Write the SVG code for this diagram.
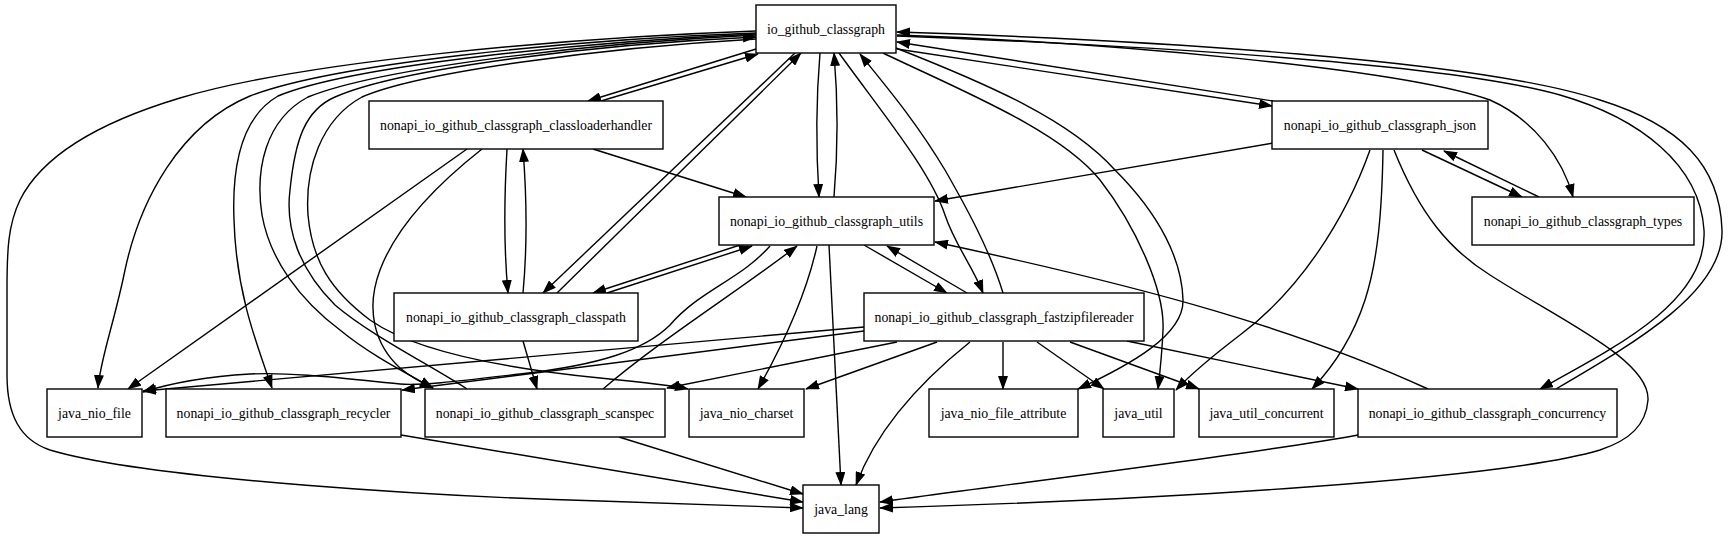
<svg xmlns="http://www.w3.org/2000/svg" width="1734" height="539" viewBox="0 0 1734 539">
<style>
rect{fill:#fff;stroke:#000;stroke-width:1.4}
text{font-family:"Liberation Serif","Times New Roman",serif;font-size:13.8px;text-anchor:middle;fill:#000}
#edges path{fill:none;stroke:#000;stroke-width:1.4;marker-end:url(#a)}
</style>
<defs>
<marker id="a" viewBox="0 0 14 10" refX="13" refY="5" markerWidth="14" markerHeight="10" markerUnits="userSpaceOnUse" orient="auto"><path d="M0,0 L14,5 L0,10 z" fill="#000"/></marker>
</defs>
<rect width="1734" height="539" style="stroke:none"/>
<g id="edges">
<path d="M756,31 C560,38 300,62 180,98 C90,125 40,160 20,200 C8,225 7,250 7,290 L7,375 C7,415 20,440 50,450 C150,480 450,497 600,501 C700,504 760,506 803,508"/>
<path d="M756,33 C560,40 330,65 250,96 C180,125 140,200 125,270 C115,320 100,360 98,388"/>
<path d="M756,34 C580,42 350,66 278,96 C240,118 232,170 234,220 C236,290 255,340 272,388"/>
<path d="M756,35 C590,43 380,68 308,97 C265,120 255,170 262,215 C270,260 300,300 340,330 C370,355 410,375 433,388"/>
<path d="M467,389 C430,365 370,335 335,305 C300,270 285,230 290,190 C295,140 305,110 335,97 C400,68 600,44 756,37"/>
<path d="M756,39 C600,48 420,72 362,97 C320,120 305,170 308,215 C312,260 330,290 370,320 C420,355 520,370 600,378 C640,382 670,385 688,389"/>
<path d="M482,149 C430,190 395,230 380,270 C365,310 375,345 400,368 C412,378 422,383 433,388"/>
<path d="M467,149 L128,389"/>
<path d="M593,149 L746,197"/>
<path d="M507,149 C504,200 504,250 508,293"/>
<path d="M523,293 C527,250 527,200 523,149"/>
<path d="M756,49 L588,101"/>
<path d="M601,101 L758,54"/>
<path d="M820,53 C816,100 816,150 819,197"/>
<path d="M834,197 C838,150 838,100 834,53"/>
<path d="M795,53 L543,293"/>
<path d="M557,293 L801,53"/>
<path d="M740,245 L593,293"/>
<path d="M607,293 L752,246"/>
<path d="M523,341 L537,389"/>
<path d="M603,389 C660,340 740,290 797,246"/>
<path d="M817,246 C805,300 780,350 758,389"/>
<path d="M829,245 L841,485"/>
<path d="M864,245 L947,293"/>
<path d="M967,293 L887,246"/>
<path d="M770,246 C740,280 700,290 670,325 C645,350 600,365 520,374 C460,381 420,386 400,384 C340,378 290,372 250,374 C200,377 165,385 143,392"/>
<path d="M619,437 L803,494"/>
<path d="M401,435 L803,502"/>
<path d="M1358,435 C1250,455 1000,485 880,502"/>
<path d="M970,342 C935,370 880,420 856,485"/>
<path d="M1394,150 C1420,215 1450,250 1490,275 C1560,320 1650,360 1648,400 C1646,425 1630,440 1600,450 C1500,480 1150,500 880,508"/>
<path d="M897,49 L1272,106"/>
<path d="M1273,101 L897,42"/>
<path d="M897,35 C1100,42 1400,68 1490,100 C1535,120 1563,160 1573,197"/>
<path d="M897,36 C1150,46 1450,64 1560,95 C1640,118 1700,165 1704,230 C1708,300 1620,345 1540,389"/>
<path d="M1556,389 C1640,340 1724,290 1722,230 C1720,165 1680,125 1600,100 C1480,60 1150,40 897,32"/>
<path d="M1273,143 L935,201"/>
<path d="M1422,150 L1522,197"/>
<path d="M1539,197 L1444,151"/>
<path d="M1370,150 C1345,220 1300,290 1240,335 C1210,358 1190,375 1176,390"/>
<path d="M1383,150 C1382,210 1378,260 1365,300 C1352,340 1330,370 1312,389"/>
<path d="M1428,389 C1300,330 1150,288 935,242"/>
<path d="M1003,293 C990,250 965,205 945,170 C915,120 885,85 860,54"/>
<path d="M839,53 C880,110 930,170 945,215 C955,245 972,265 983,293"/>
<path d="M883,53 C960,90 1060,130 1100,180 C1135,225 1165,290 1163,330 C1162,355 1160,372 1158,389"/>
<path d="M896,48 C990,85 1070,120 1115,170 C1160,215 1182,260 1183,300 C1184,335 1130,365 1078,389"/>
<path d="M864,327 L143,391"/>
<path d="M864,331 L402,390"/>
<path d="M897,342 L667,388"/>
<path d="M937,342 L806,389"/>
<path d="M1003,342 L1003,389"/>
<path d="M1037,342 L1104,389"/>
<path d="M1070,342 L1199,389"/>
<path d="M1127,341 L1358,389"/>
</g>
<g id="io_github_classgraph"><rect x="756" y="5" width="140" height="48"/><text x="826" y="33.6">io_github_classgraph</text></g>
<g id="classloaderhandler"><rect x="369" y="101" width="294" height="48"/><text x="516" y="129.6">nonapi_io_github_classgraph_classloaderhandler</text></g>
<g id="json"><rect x="1272" y="101" width="216" height="48"/><text x="1380" y="129.6">nonapi_io_github_classgraph_json</text></g>
<g id="utils"><rect x="719" y="197" width="215" height="48"/><text x="826.5" y="225.6">nonapi_io_github_classgraph_utils</text></g>
<g id="types"><rect x="1472" y="197" width="222" height="48"/><text x="1583" y="225.6">nonapi_io_github_classgraph_types</text></g>
<g id="classpath"><rect x="394" y="293" width="244" height="48"/><text x="516" y="321.6">nonapi_io_github_classgraph_classpath</text></g>
<g id="fastzipfilereader"><rect x="864" y="293" width="280" height="48"/><text x="1004" y="321.6">nonapi_io_github_classgraph_fastzipfilereader</text></g>
<g id="java_nio_file"><rect x="47" y="389" width="95" height="48"/><text x="94.5" y="417.6">java_nio_file</text></g>
<g id="recycler"><rect x="166" y="389" width="235" height="48"/><text x="283.5" y="417.6">nonapi_io_github_classgraph_recycler</text></g>
<g id="scanspec"><rect x="425" y="389" width="240" height="48"/><text x="545" y="417.6">nonapi_io_github_classgraph_scanspec</text></g>
<g id="java_nio_charset"><rect x="689" y="389" width="115" height="48"/><text x="746.5" y="417.6">java_nio_charset</text></g>
<g id="java_nio_file_attribute"><rect x="929" y="389" width="149" height="48"/><text x="1003.5" y="417.6">java_nio_file_attribute</text></g>
<g id="java_util"><rect x="1103" y="389" width="71" height="48"/><text x="1138.5" y="417.6">java_util</text></g>
<g id="java_util_concurrent"><rect x="1199" y="389" width="135" height="48"/><text x="1266.5" y="417.6">java_util_concurrent</text></g>
<g id="concurrency"><rect x="1358" y="389" width="259" height="48"/><text x="1487.5" y="417.6">nonapi_io_github_classgraph_concurrency</text></g>
<g id="java_lang"><rect x="803" y="485" width="76" height="48"/><text x="841" y="513.6">java_lang</text></g>
</svg>
